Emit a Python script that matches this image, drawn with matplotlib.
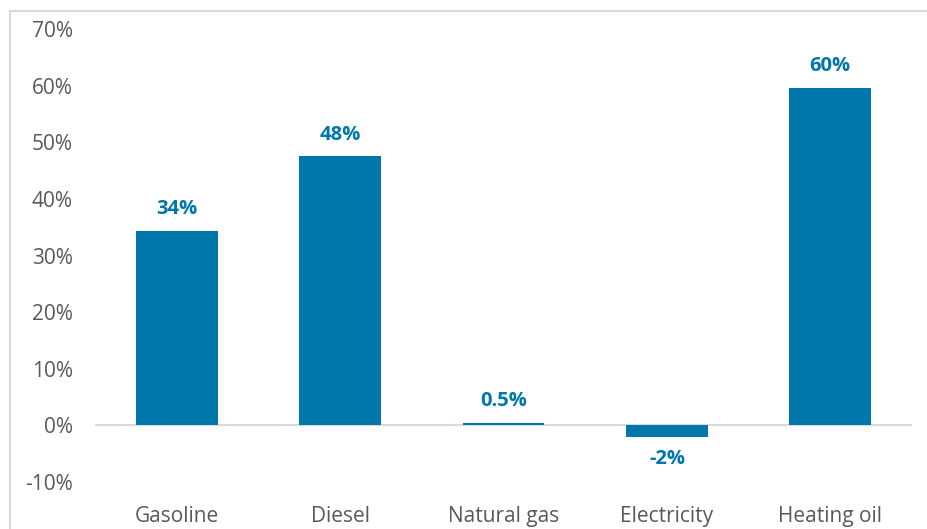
import matplotlib.pyplot as plt
from matplotlib.patches import Rectangle
from matplotlib.ticker import FuncFormatter

fuels = ['Gasoline', 'Diesel', 'Natural gas', 'Electricity', 'Heating oil']
change = [34.3, 47.5, 0.5, -2.1, 59.6]
labels = ['34%', '48%', '0.5%', '-2%', '60%']

bar_color = '#0077AA'
text_gray = '#595959'

plt.rcParams['font.family'] = ['Open Sans', 'DejaVu Sans']

fig = plt.figure(figsize=(9.27, 5.29), dpi=100)
ax = fig.add_axes([95 / 927, 1 - 482 / 529, 817 / 927, 453 / 529])

x = range(len(fuels))
ax.bar(x, change, width=0.5, color=bar_color, zorder=3)

for i, (v, lab) in enumerate(zip(change, labels)):
    if v >= 0:
        ax.text(i, v + 2.1, lab, ha='center', va='bottom', fontsize=14.5,
                fontweight='bold', color=bar_color)
    else:
        ax.text(i, v - 2.0, lab, ha='center', va='top', fontsize=14.5,
                fontweight='bold', color=bar_color)

ax.set_xlim(-0.5, len(fuels) - 0.5)
ax.set_ylim(-10, 70)
ax.set_yticks(range(-10, 71, 10))
ax.yaxis.set_major_formatter(FuncFormatter(lambda v, p: f'{v:.0f}%'))
ax.axhline(0, color='#d9d9d9', lw=1.5, zorder=2)

ax.set_xticks(list(x))
ax.set_xticklabels(fuels)
ax.tick_params(axis='both', length=0, labelsize=15, colors=text_gray)
ax.tick_params(axis='y', pad=16)
ax.tick_params(axis='x', pad=17)
for s in ax.spines.values():
    s.set_visible(False)

# chart frame
fig.patches.append(Rectangle((10 / 927, -0.1), 1.1, 1 - 11 / 529 + 0.1,
                             transform=fig.transFigure, fill=False,
                             edgecolor='#d9d9d9', lw=1.5))

fig.savefig('out.png', dpi=100)
